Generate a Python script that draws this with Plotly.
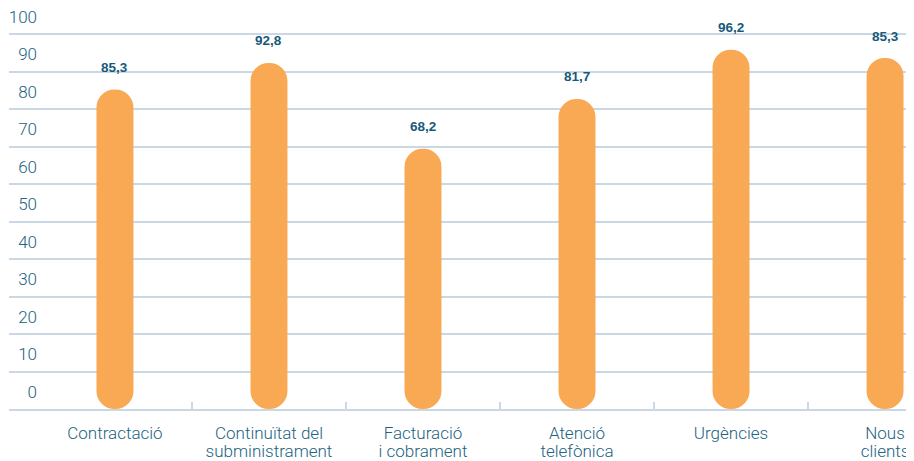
import plotly.graph_objects as go

# categories, split in two lines as printed under the axis
line1 = ['Contractació', 'Continuïtat del', 'Facturació', 'Atenció', 'Urgències', 'Nous']
line2 = ['', 'subministrament', 'i cobrament', 'telefònica', '', 'clients']

# bar heights as drawn, and the value printed above each bar
heights = [85.2, 92.3, 69.4, 82.7, 95.8, 93.6]
labels = [85.3, 92.8, 68.2, 81.7, 96.2, 85.3]

ytick_vals = [0, 10, 20, 30, 40, 50, 60, 70, 80, 90, 100]

orange = '#f9a954'
grid = '#c9d8e4'
tickcol = '#22637f'
valcol = '#17597a'

x = list(range(len(line1)))

fig = go.Figure()
# with an explicit base plotly rounds both ends -> pill shaped bars
fig.add_trace(go.Bar(x=x, y=heights, base=0, width=0.24,
                     marker=dict(color=orange, cornerradius=18, line=dict(width=0)),
                     hoverinfo='skip'))
# empty trace so the second label axis gets drawn
fig.add_trace(go.Scatter(x=[], y=[], xaxis='x2', showlegend=False))

for i, h in enumerate(heights):
    fig.add_annotation(x=x[i], y=h, yshift=22, showarrow=False,
                       text='<b>' + ('%.1f' % labels[i]).replace('.', ',') + '</b>',
                       font=dict(family='Liberation Sans', size=13.5, color=valcol))

xr = [-0.688, 5.188]
# page body has an 8px margin, so the figure is 8px smaller than the window
fig.update_layout(
    template='none',
    width=906, height=453,
    margin=dict(l=1, r=0, t=10.5, b=52, autoexpand=False),
    paper_bgcolor='white', plot_bgcolor='white',
    showlegend=False,
    font=dict(family='Roboto', size=17, color=tickcol, weight=300),
    xaxis=dict(range=xr, tickmode='array', tickvals=x, ticktext=line1,
               ticks='', showgrid=False, zeroline=False, automargin=False,
               showline=True, linecolor=grid, linewidth=2,
               ticklabelstandoff=8, ticklabeloverflow='allow',
               minor=dict(tickmode='array', tickvals=[i + 0.5 for i in x[:-1]],
                          ticks='inside', ticklen=7, tickwidth=2, tickcolor=grid,
                          showgrid=False)),
    xaxis2=dict(range=xr, overlaying='x', anchor='y', side='bottom',
                tickmode='array', tickvals=x, ticktext=line2, automargin=False,
                ticks='', showgrid=False, zeroline=False, showline=False,
                ticklabelstandoff=30, ticklabeloverflow='allow'),
    yaxis=dict(range=[0, 104], tickmode='array', tickvals=ytick_vals,
               showgrid=True, gridcolor=grid, gridwidth=2, zeroline=False,
               ticks='', anchor='free', position=0.031, automargin=False,
               ticklabelshift=-17, ticklabeloverflow='allow'),
)

fig.write_html('out.html')
